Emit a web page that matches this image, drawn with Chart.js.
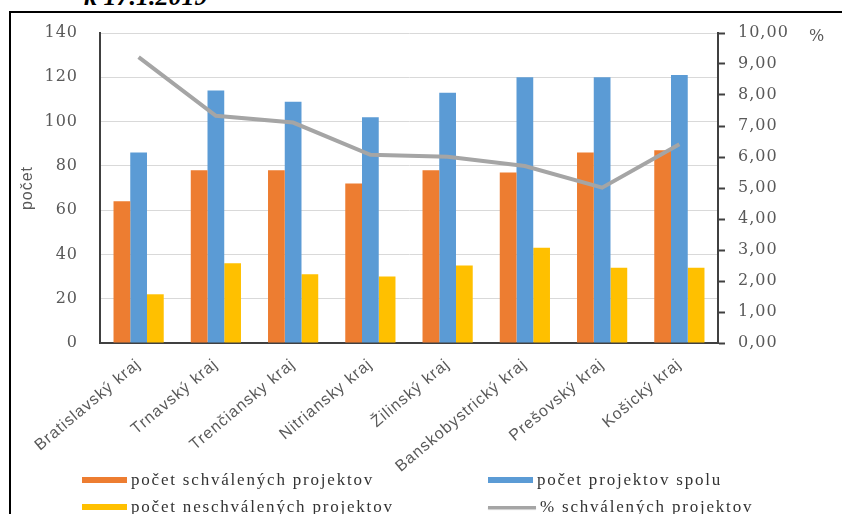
<!DOCTYPE html>
<html>
<head>
<meta charset="utf-8">
<script src="https://cdn.jsdelivr.net/npm/chart.js@4.4.0/dist/chart.umd.min.js"></script>
<style>
  html, body { margin: 0; padding: 0; background: #fff; }
  #wrap { position: relative; width: 842px; height: 514px; overflow: hidden; }
  #frame { position: absolute; left: 9px; top: 11px; width: 900px; height: 600px;
           border-left: 2px solid #000; border-top: 2px solid #000; }
  #datum { position: absolute; left: 84px; top: -16px; font: italic bold 26px "Liberation Serif", serif;
           line-height: 26px; color: #000; white-space: nowrap; }
  #pct { position: absolute; left: 809px; top: 26px; font: 16px "DejaVu Serif", serif; color: #595959; }
  canvas { position: absolute; left: 0; top: 0; }
  .leg { position: absolute; display: flex; align-items: center; height: 20px;
         font: 17px "Liberation Serif", serif; letter-spacing: 1.8px; color: #333; white-space: nowrap; }
  .leg span.sw { display: inline-block; margin-right: 4px; }
</style>
</head>
<body>
<div id="wrap">
  <div id="datum">k 17.1.2019</div>
  <div id="frame"></div>
  <canvas id="graf" width="842" height="514"></canvas>
  <div id="pct">%</div>
  <div id="legenda"></div>
</div>
<script>
// kategorie (kraje)
const kraje = ["Bratislavský kraj", "Trnavský kraj", "Trenčiansky kraj", "Nitriansky kraj",
               "Žilinský kraj", "Banskobystrický kraj", "Prešovský kraj", "Košický kraj"];

// hodnoty
const schvalene   = [64, 78, 78, 72, 78, 77, 86, 87];
const spolu       = [86, 114, 109, 102, 113, 120, 120, 121];
const neschvalene = [22, 36, 31, 30, 35, 43, 34, 34];
const percenta    = [9.22, 7.33, 7.11, 6.07, 6.01, 5.71, 5.01, 6.41];

// osi
const lavaOsMax = 140, lavaOsKrok = 20;
const pravaOsMax = 10, pravaOsKrok = 1;

// riedke písmo ako v Exceli (canvas si stav po zmene rozmerov zabudne, preto pri každom update)
const rozostup = {
    id: "rozostup",
    beforeUpdate(chart) { chart.ctx.letterSpacing = "1px"; },
    beforeDraw(chart) { chart.ctx.letterSpacing = "1px"; }
};

const ctx = document.getElementById("graf").getContext("2d");

const chart = new Chart(ctx, {
    type: "bar",
    plugins: [rozostup],
    data: {
        labels: kraje,
        datasets: [
            { label: "počet schválených projektov", data: schvalene, backgroundColor: "#ED7D31", yAxisID: "y", order: 1 },
            { label: "počet projektov spolu", data: spolu, backgroundColor: "#5B9BD5", yAxisID: "y", order: 1 },
            { label: "počet neschválených projektov", data: neschvalene, backgroundColor: "#FFC000", yAxisID: "y", order: 1 },
            {
                type: "line",
                label: "% schválených projektov",
                data: percenta,
                borderColor: "#A5A5A5",
                backgroundColor: "#A5A5A5",
                borderWidth: 4,
                pointRadius: 0,
                tension: 0,
                yAxisID: "y1",
                order: 0
            }
        ]
    },
    options: {
        responsive: false,
        animation: false,
        categoryPercentage: 0.65,
        barPercentage: 1.0,
        layout: { padding: { left: 10, top: 33, right: 0, bottom: 0 } },
        plugins: {
            legend: { display: false },
            tooltip: { enabled: false }
        },
        scales: {
            x: {
                grid: { display: false, drawTicks: false },
                border: { display: true, color: "#404040", width: 2 },
                ticks: {
                    color: "#595959",
                    font: { family: "Liberation Sans", size: 16 },
                    minRotation: 40,
                    maxRotation: 40,
                    padding: 12
                },
                afterFit: (s) => { s.height = 171; }
            },
            y: {
                position: "left",
                min: 0,
                max: lavaOsMax,
                grid: { color: "#D9D9D9", drawTicks: false },
                border: { display: true, color: "#404040", width: 2 },
                ticks: {
                    stepSize: lavaOsKrok,
                    color: "#595959",
                    font: { family: "DejaVu Serif", size: 16 },
                    padding: 22
                },
                title: {
                    display: true,
                    text: "počet",
                    color: "#595959",
                    font: { family: "Liberation Sans", size: 16 },
                    padding: { top: 8, bottom: 0 }
                },
                afterFit: (s) => { s.width = 90; }
            },
            y1: {
                position: "right",
                min: 0,
                max: pravaOsMax,
                grid: { drawOnChartArea: false, drawTicks: true, tickLength: 7, tickColor: "#404040", tickWidth: 2 },
                border: { display: true, color: "#404040", width: 2 },
                ticks: {
                    stepSize: pravaOsKrok,
                    color: "#595959",
                    font: { family: "DejaVu Serif", size: 16 },
                    padding: 13,
                    callback: (v) => v.toFixed(2).replace(".", ",")
                },
                afterFit: (s) => { s.width = 124; }
            }
        }
    }
});

// legenda v dvoch stĺpcoch
const polohy = [
    { left: 82, top: 470 },
    { left: 488, top: 470 },
    { left: 82, top: 497 },
    { left: 488, top: 497 }
];
const legenda = document.getElementById("legenda");
chart.data.datasets.forEach((ds, i) => {
    const item = document.createElement("div");
    item.className = "leg";
    item.style.left = polohy[i].left + "px";
    item.style.top = polohy[i].top + "px";
    const sw = document.createElement("span");
    sw.className = "sw";
    sw.style.width = ds.type === "line" ? "48px" : "45px";
    sw.style.height = ds.type === "line" ? "3px" : "6px";
    sw.style.background = ds.backgroundColor;
    if (ds.type === "line") sw.style.boxShadow = "0 1px 1px #ccc";
    const txt = document.createElement("span");
    txt.textContent = ds.label;
    item.appendChild(sw);
    item.appendChild(txt);
    legenda.appendChild(item);
});
</script>
</body>
</html>
